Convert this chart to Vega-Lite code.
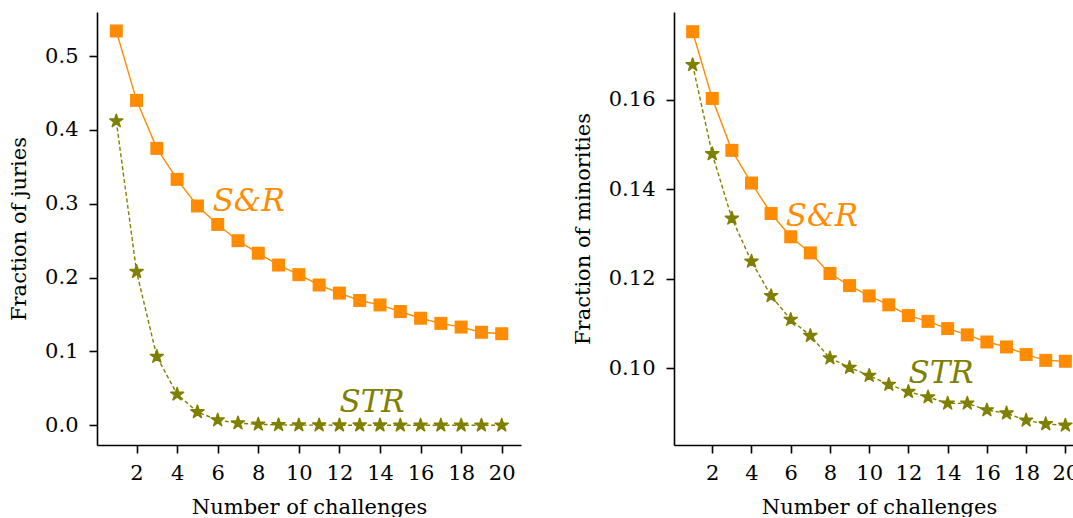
{
  "$schema": "https://vega.github.io/schema/vega-lite/v6.json",
  "background": "white",
  "padding": {"left": 8, "top": 12, "right": 0, "bottom": 0},
  "datasets": {
    "series": [
      {"p": "juries", "m": "S&R", "n": 1, "v": 0.534},
      {"p": "juries", "m": "S&R", "n": 2, "v": 0.440},
      {"p": "juries", "m": "S&R", "n": 3, "v": 0.375},
      {"p": "juries", "m": "S&R", "n": 4, "v": 0.333},
      {"p": "juries", "m": "S&R", "n": 5, "v": 0.297},
      {"p": "juries", "m": "S&R", "n": 6, "v": 0.272},
      {"p": "juries", "m": "S&R", "n": 7, "v": 0.250},
      {"p": "juries", "m": "S&R", "n": 8, "v": 0.233},
      {"p": "juries", "m": "S&R", "n": 9, "v": 0.217},
      {"p": "juries", "m": "S&R", "n": 10, "v": 0.204},
      {"p": "juries", "m": "S&R", "n": 11, "v": 0.190},
      {"p": "juries", "m": "S&R", "n": 12, "v": 0.179},
      {"p": "juries", "m": "S&R", "n": 13, "v": 0.169},
      {"p": "juries", "m": "S&R", "n": 14, "v": 0.163},
      {"p": "juries", "m": "S&R", "n": 15, "v": 0.154},
      {"p": "juries", "m": "S&R", "n": 16, "v": 0.145},
      {"p": "juries", "m": "S&R", "n": 17, "v": 0.138},
      {"p": "juries", "m": "S&R", "n": 18, "v": 0.133},
      {"p": "juries", "m": "S&R", "n": 19, "v": 0.126},
      {"p": "juries", "m": "S&R", "n": 20, "v": 0.124},
      {"p": "juries", "m": "STR", "n": 1, "v": 0.412},
      {"p": "juries", "m": "STR", "n": 2, "v": 0.208},
      {"p": "juries", "m": "STR", "n": 3, "v": 0.093},
      {"p": "juries", "m": "STR", "n": 4, "v": 0.042},
      {"p": "juries", "m": "STR", "n": 5, "v": 0.018},
      {"p": "juries", "m": "STR", "n": 6, "v": 0.007},
      {"p": "juries", "m": "STR", "n": 7, "v": 0.003},
      {"p": "juries", "m": "STR", "n": 8, "v": 0.0013},
      {"p": "juries", "m": "STR", "n": 9, "v": 0.0006},
      {"p": "juries", "m": "STR", "n": 10, "v": 0.0003},
      {"p": "juries", "m": "STR", "n": 11, "v": 0.0002},
      {"p": "juries", "m": "STR", "n": 12, "v": 0.0001},
      {"p": "juries", "m": "STR", "n": 13, "v": 0.0001},
      {"p": "juries", "m": "STR", "n": 14, "v": 0.0001},
      {"p": "juries", "m": "STR", "n": 15, "v": 0.0},
      {"p": "juries", "m": "STR", "n": 16, "v": 0.0},
      {"p": "juries", "m": "STR", "n": 17, "v": 0.0},
      {"p": "juries", "m": "STR", "n": 18, "v": 0.0},
      {"p": "juries", "m": "STR", "n": 19, "v": 0.0},
      {"p": "juries", "m": "STR", "n": 20, "v": 0.0},
      {"p": "minorities", "m": "S&R", "n": 1, "v": 0.1752},
      {"p": "minorities", "m": "S&R", "n": 2, "v": 0.1603},
      {"p": "minorities", "m": "S&R", "n": 3, "v": 0.1487},
      {"p": "minorities", "m": "S&R", "n": 4, "v": 0.1414},
      {"p": "minorities", "m": "S&R", "n": 5, "v": 0.1346},
      {"p": "minorities", "m": "S&R", "n": 6, "v": 0.1294},
      {"p": "minorities", "m": "S&R", "n": 7, "v": 0.1258},
      {"p": "minorities", "m": "S&R", "n": 8, "v": 0.1212},
      {"p": "minorities", "m": "S&R", "n": 9, "v": 0.1185},
      {"p": "minorities", "m": "S&R", "n": 10, "v": 0.1162},
      {"p": "minorities", "m": "S&R", "n": 11, "v": 0.1142},
      {"p": "minorities", "m": "S&R", "n": 12, "v": 0.1118},
      {"p": "minorities", "m": "S&R", "n": 13, "v": 0.1105},
      {"p": "minorities", "m": "S&R", "n": 14, "v": 0.1089},
      {"p": "minorities", "m": "S&R", "n": 15, "v": 0.1075},
      {"p": "minorities", "m": "S&R", "n": 16, "v": 0.1059},
      {"p": "minorities", "m": "S&R", "n": 17, "v": 0.1048},
      {"p": "minorities", "m": "S&R", "n": 18, "v": 0.1031},
      {"p": "minorities", "m": "S&R", "n": 19, "v": 0.1018},
      {"p": "minorities", "m": "S&R", "n": 20, "v": 0.1016},
      {"p": "minorities", "m": "STR", "n": 1, "v": 0.1678},
      {"p": "minorities", "m": "STR", "n": 2, "v": 0.1479},
      {"p": "minorities", "m": "STR", "n": 3, "v": 0.1335},
      {"p": "minorities", "m": "STR", "n": 4, "v": 0.1239},
      {"p": "minorities", "m": "STR", "n": 5, "v": 0.1162},
      {"p": "minorities", "m": "STR", "n": 6, "v": 0.1109},
      {"p": "minorities", "m": "STR", "n": 7, "v": 0.1073},
      {"p": "minorities", "m": "STR", "n": 8, "v": 0.1023},
      {"p": "minorities", "m": "STR", "n": 9, "v": 0.1002},
      {"p": "minorities", "m": "STR", "n": 10, "v": 0.0984},
      {"p": "minorities", "m": "STR", "n": 11, "v": 0.0964},
      {"p": "minorities", "m": "STR", "n": 12, "v": 0.0948},
      {"p": "minorities", "m": "STR", "n": 13, "v": 0.0936},
      {"p": "minorities", "m": "STR", "n": 14, "v": 0.0922},
      {"p": "minorities", "m": "STR", "n": 15, "v": 0.0922},
      {"p": "minorities", "m": "STR", "n": 16, "v": 0.0907},
      {"p": "minorities", "m": "STR", "n": 17, "v": 0.0900},
      {"p": "minorities", "m": "STR", "n": 18, "v": 0.0884},
      {"p": "minorities", "m": "STR", "n": 19, "v": 0.0876},
      {"p": "minorities", "m": "STR", "n": 20, "v": 0.0873}
    ],
    "labels": [
      {"p": "juries", "t": "S&R", "n": 5.75, "v": 0.29},
      {"p": "juries", "t": "STR", "n": 12.0, "v": 0.018},
      {"p": "minorities", "t": "S&R", "n": 5.75, "v": 0.1318},
      {"p": "minorities", "t": "STR", "n": 12.0, "v": 0.0968}
    ]
  },
  "hconcat": [
    {
      "width": 424,
      "height": 433,
      "encoding": {
        "x": {"field": "n", "type": "quantitative", "scale": {"domain": [0.05, 20.95], "nice": false, "zero": false}, "axis": {"values": [2, 4, 6, 8, 10, 12, 14, 16, 18, 20], "title": "Number of challenges"}},
        "y": {"field": "v", "type": "quantitative", "scale": {"domain": [-0.0267, 0.5597], "nice": false, "zero": false}, "axis": {"values": [0, 0.1, 0.2, 0.3, 0.4, 0.5], "format": ".1f", "title": "Fraction of juries"}}
      },
      "layer": [
        {"data": {"name": "series"}, "transform": [{"filter": "datum.p === 'juries' && datum.m === 'S&R'"}], "mark": {"type": "line", "color": "#ff8c00", "strokeWidth": 1.4}},
        {"data": {"name": "series"}, "transform": [{"filter": "datum.p === 'juries' && datum.m === 'S&R'"}], "mark": {"type": "point", "shape": "square", "filled": true, "size": 169, "color": "#ff8c00", "opacity": 1}},
        {"data": {"name": "series"}, "transform": [{"filter": "datum.p === 'juries' && datum.m === 'STR'"}], "mark": {"type": "line", "color": "#808000", "strokeWidth": 1.4, "strokeDash": [4, 2.5]}},
        {"data": {"name": "series"}, "transform": [{"filter": "datum.p === 'juries' && datum.m === 'STR'"}], "mark": {"type": "point", "shape": "M0,-1L0.2245,-0.309L0.951,-0.309L0.363,0.118L0.588,0.809L0,0.382L-0.588,0.809L-0.363,0.118L-0.951,-0.309L-0.2245,-0.309Z", "filled": true, "size": 190, "color": "#808000", "stroke": "#808000", "strokeWidth": 1.5, "strokeJoin": "round", "opacity": 1}},
        {"data": {"name": "labels"}, "transform": [{"filter": "datum.p === 'juries'"}], "mark": {"type": "text", "font": "DejaVu Serif", "fontStyle": "italic", "fontSize": 31, "align": "left", "baseline": "alphabetic"}, "encoding": {"text": {"field": "t"}, "color": {"field": "t", "type": "nominal", "scale": {"domain": ["S&R", "STR"], "range": ["#ff8c00", "#808000"]}, "legend": null}}}
      ]
    },
    {
      "width": 410,
      "height": 433,
      "encoding": {
        "x": {"field": "n", "type": "quantitative", "scale": {"domain": [0.05, 20.95], "nice": false, "zero": false}, "axis": {"values": [2, 4, 6, 8, 10, 12, 14, 16, 18, 20], "title": "Number of challenges"}},
        "y": {"field": "v", "type": "quantitative", "scale": {"domain": [0.0829, 0.1796], "nice": false, "zero": false}, "axis": {"values": [0.10, 0.12, 0.14, 0.16], "format": ".2f", "title": "Fraction of minorities"}}
      },
      "layer": [
        {"data": {"name": "series"}, "transform": [{"filter": "datum.p === 'minorities' && datum.m === 'S&R'"}], "mark": {"type": "line", "color": "#ff8c00", "strokeWidth": 1.4}},
        {"data": {"name": "series"}, "transform": [{"filter": "datum.p === 'minorities' && datum.m === 'S&R'"}], "mark": {"type": "point", "shape": "square", "filled": true, "size": 169, "color": "#ff8c00", "opacity": 1}},
        {"data": {"name": "series"}, "transform": [{"filter": "datum.p === 'minorities' && datum.m === 'STR'"}], "mark": {"type": "line", "color": "#808000", "strokeWidth": 1.4, "strokeDash": [4, 2.5]}},
        {"data": {"name": "series"}, "transform": [{"filter": "datum.p === 'minorities' && datum.m === 'STR'"}], "mark": {"type": "point", "shape": "M0,-1L0.2245,-0.309L0.951,-0.309L0.363,0.118L0.588,0.809L0,0.382L-0.588,0.809L-0.363,0.118L-0.951,-0.309L-0.2245,-0.309Z", "filled": true, "size": 190, "color": "#808000", "stroke": "#808000", "strokeWidth": 1.5, "strokeJoin": "round", "opacity": 1}},
        {"data": {"name": "labels"}, "transform": [{"filter": "datum.p === 'minorities'"}], "mark": {"type": "text", "font": "DejaVu Serif", "fontStyle": "italic", "fontSize": 31, "align": "left", "baseline": "alphabetic"}, "encoding": {"text": {"field": "t"}, "color": {"field": "t", "type": "nominal", "scale": {"domain": ["S&R", "STR"], "range": ["#ff8c00", "#808000"]}, "legend": null}}}
      ]
    }
  ],
  "config": {
    "view": {"stroke": null},
    "font": "DejaVu Serif",
    "concat": {"spacing": 51},
    "axis": {
      "grid": false,
      "domainColor": "black",
      "domainWidth": 1.6,
      "tickColor": "black",
      "tickWidth": 1.6,
      "tickSize": 8,
      "labelFont": "DejaVu Serif",
      "labelFontSize": 21,
      "labelColor": "black",
      "labelOverlap": false,
      "titleFont": "DejaVu Serif",
      "titleFontSize": 21,
      "titleFontWeight": "normal",
      "titleColor": "black"
    },
    "axisX": {"labelPadding": 9, "titlePadding": 13, "labelAngle": 0},
    "axisY": {"labelPadding": 11, "titlePadding": 15}
  }
}
